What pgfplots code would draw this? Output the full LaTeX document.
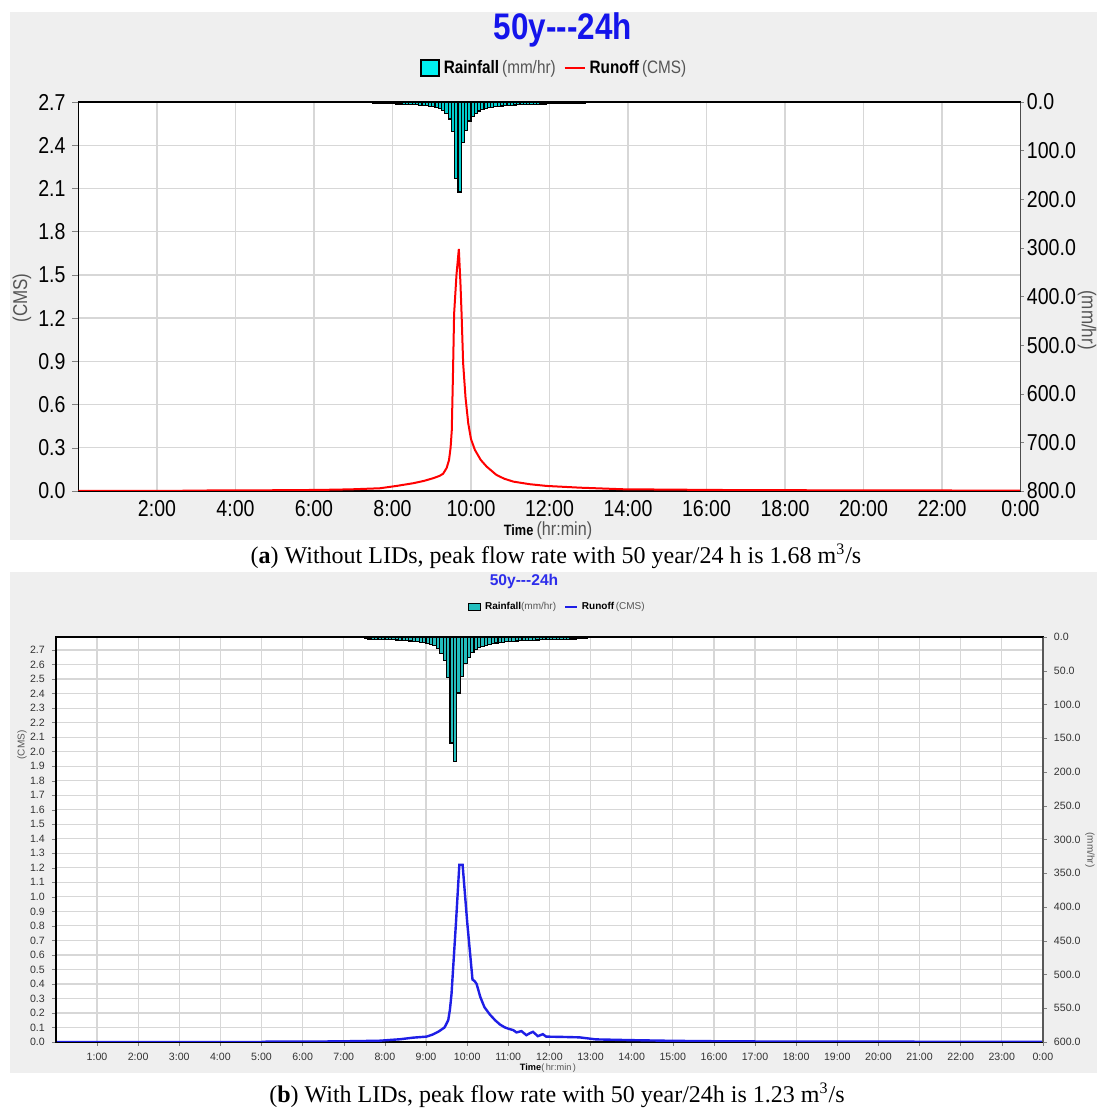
\documentclass[border=0pt]{standalone}
\usepackage{pgfplots}
\usepackage{pgfplotstable}
\pgfplotsset{compat=1.18}
\usepackage{fontspec}
\setmainfont{Liberation Serif}
\newfontfamily\arial{Liberation Sans}
\newfontfamily\arialc[FakeStretch=0.85]{Liberation Sans}
\definecolor{bgray}{RGB}{239,239,239}
\definecolor{gridc}{RGB}{215,215,215}
\definecolor{titleA}{RGB}{20,20,235}
\definecolor{titleB}{RGB}{45,45,235}
\definecolor{rainA}{RGB}{0,205,205}
\definecolor{rainB}{RGB}{35,190,190}
\definecolor{legA}{RGB}{0,240,240}
\definecolor{labgray}{RGB}{85,85,85}
\definecolor{runB}{RGB}{30,30,230}

\pgfplotstableread{
t r
7.5417 2.8
7.625 2.9
7.7083 3.1
7.7917 3.2
7.875 3.4
7.9583 3.6
8.0417 3.8
8.125 4.0
8.2083 4.2
8.2917 4.5
8.375 4.8
8.4583 5.1
8.5417 5.5
8.625 5.9
8.7083 6.4
8.7917 7.0
8.875 7.7
8.9583 8.5
9.0417 9.5
9.125 11
9.2083 13
9.2917 17
9.375 24
9.4583 35
9.5417 60
9.625 157
9.7083 185
9.7917 83
9.875 59
9.9583 39
10.0417 30
10.125 23
10.2083 18.5
10.2917 15.5
10.375 13.5
10.4583 12
10.5417 10.8
10.625 9.8
10.7083 9
10.7917 8.3
10.875 7.7
10.9583 7.2
11.0417 6.7
11.125 6.3
11.2083 5.9
11.2917 5.6
11.375 5.3
11.4583 5.0
11.5417 4.8
11.625 4.6
11.7083 4.4
11.7917 4.2
11.875 4.0
11.9583 3.8
12.0417 3.7
12.125 3.5
12.2083 3.4
12.2917 3.3
12.375 3.2
12.4583 3.1
12.5417 3.0
12.625 2.9
12.7083 2.8
12.7917 2.7
12.875 2.6
}\rain

\pgfplotstableread{
t q
0 0
2.6 0
2.7 0.003
4.0 0.004
5.6 0.006
6.5 0.009
7.0 0.012
7.68 0.019
8.1 0.035
8.53 0.054
8.8 0.07
9.04 0.089
9.2 0.105
9.29 0.12
9.38 0.16
9.44 0.215
9.48 0.30
9.51 0.42
9.54 0.8
9.57 1.23
9.63 1.5
9.69 1.68
9.73 1.45
9.76 1.23
9.80 0.886
9.86 0.65
9.93 0.47
10.0 0.36
10.1 0.285
10.25 0.215
10.4 0.169
10.65 0.111
10.85 0.085
11.08 0.065
11.5 0.047
11.93 0.035
12.78 0.023
13.88 0.012
16.3 0.007
20 0.004
24 0.003
}\runA

\pgfplotstableread{
t q
0 0
5.0 0
5.05 0.002
6.8 0.004
7.5 0.007
7.88 0.009
8.37 0.019
8.69 0.03
9.01 0.037
9.15 0.05
9.30 0.071
9.45 0.10
9.54 0.15
9.58 0.22
9.62 0.33
9.73 0.83
9.81 1.22
9.89 1.22
10.0 0.83
10.13 0.43
10.18 0.42
10.23 0.40
10.32 0.31
10.42 0.24
10.55 0.19
10.68 0.15
10.80 0.12
10.92 0.10
11.02 0.09
11.12 0.082
11.2 0.066
11.32 0.075
11.44 0.047
11.52 0.06
11.6 0.07
11.72 0.04
11.84 0.054
11.92 0.037
12.3 0.035
12.73 0.032
13.13 0.018
13.94 0.013
15.0 0.008
16.5 0.004
21 0.002
24 0.001
}\runB

\begin{document}
\begin{tikzpicture}
\path[use as bounding box] (0,0) rectangle (548.5pt,555pt);
\fill[bgray] (5pt,285pt) rectangle (548.5pt,549pt);
\fill[bgray] (5pt,18.5pt) rectangle (548.5pt,269pt);

% ---------------- Panel (a) ----------------
\begin{axis}[
  at={(39.25pt,309.5pt)}, anchor=south west,
  scale only axis, width=471pt, height=194.5pt,
  xmin=0, xmax=24, ymin=0, ymax=2.7,
  xtick={2,4,...,24},
  xticklabels={2:00,4:00,6:00,8:00,10:00,12:00,14:00,16:00,18:00,20:00,22:00,0:00},
  ytick={0,0.3,0.6,0.9,1.2,1.5,1.8,2.1,2.4,2.7},
  yticklabels={0.0,0.3,0.6,0.9,1.2,1.5,1.8,2.1,2.4,2.7},
  ytick pos=left, xtick pos=bottom,
  tick align=outside, major tick length=3pt,
  xtick style={draw=none},
  grid=major, grid style={gridc, line width=0.7pt},
  axis line style={black, line width=0.6pt},
  axis background/.style={fill=white},
  ticklabel style={font=\arialc\fontsize{11.5}{13}\selectfont, text=black},
  xticklabel style={yshift=2pt},
  legend style={at={(0.506,1.087)}, anchor=center, draw=none, fill=none,
    legend columns=-1, font=\arialc\fontsize{9}{10}\selectfont,
    /tikz/every odd column/.append style={column sep=0pt},
    /tikz/every even column/.append style={column sep=2pt}},
]
\addlegendimage{legend image code/.code={\draw[fill=legA, draw=black, line width=0.9pt] (0pt,-4pt) rectangle (9pt,4pt);}}
\addlegendentry{\textbf{Rainfall}\,\textcolor{labgray}{(mm/hr)}}
\addplot[red, line width=1pt, legend image code/.code={\draw[red, line width=1pt] (0pt,0pt) -- (10pt,0pt);}] table[x=t,y=q] {\runA};
\addlegendentry{\textbf{Runoff}\,\textcolor{labgray}{(CMS)}}
\end{axis}

\begin{axis}[
  at={(39.25pt,309.5pt)}, anchor=south west,
  scale only axis, width=471pt, height=194.5pt,
  xmin=0, xmax=24, ymin=0, ymax=800, y dir=reverse,
  hide x axis, axis y line*=right,
  ytick={0,100,200,300,400,500,600,700,800},
  yticklabels={0.0,100.0,200.0,300.0,400.0,500.0,600.0,700.0,800.0},
  tick align=outside, major tick length=1.5pt,
  axis line style={black!70, line width=0.6pt},
  ticklabel style={font=\arialc\fontsize{11.5}{13}\selectfont, text=black},
  yticklabel style={xshift=-1.8pt},
]
\addplot[ybar, bar width=0.0833, fill=rainA, draw=black, line width=0.6pt] table[x=t,y=r] {\rain};
\draw[black, line width=1.1pt] (axis cs:0,0) -- (axis cs:24,0);
\end{axis}

\node[font=\arialc\bfseries\fontsize{18.5}{20}\selectfont, text=titleA] at (281.5pt,540pt) {50y---24h};
\node[font=\arialc\fontsize{10}{12}\selectfont, text=labgray, rotate=90] at (11pt,406pt) {(CMS)};
\node[font=\arialc\fontsize{10}{12}\selectfont, text=labgray, rotate=-90] at (543.5pt,395pt) {(mm/hr)};
\node[font=\arialc\fontsize{9.5}{11}\selectfont, text=labgray] at (274pt,289.5pt) {{\fontsize{7.5}{9}\selectfont\bfseries\color{black}Time}\,(hr:min)};
\node[font=\fontsize{12}{14}\selectfont] at (278pt,277pt) {(\textbf{a}) Without LIDs, peak flow rate with 50 year/24 h is 1.68 m\textsuperscript{3}/s};

% ---------------- Panel (b) ----------------
\begin{axis}[
  at={(27.95pt,34pt)}, anchor=south west,
  scale only axis, width=493.5pt, height=202.5pt,
  xmin=0, xmax=24, ymin=0, ymax=2.79,
  xtick={1,2,...,24},
  xticklabels={1:00,2:00,3:00,4:00,5:00,6:00,7:00,8:00,9:00,10:00,11:00,12:00,13:00,14:00,15:00,16:00,17:00,18:00,19:00,20:00,21:00,22:00,23:00,0:00},
  ytick={0,0.1,0.2,0.3,0.4,0.5,0.6,0.7,0.8,0.9,1.0,1.1,1.2,1.3,1.4,1.5,1.6,1.7,1.8,1.9,2.0,2.1,2.2,2.3,2.4,2.5,2.6,2.7},
  yticklabels={0.0,0.1,0.2,0.3,0.4,0.5,0.6,0.7,0.8,0.9,1.0,1.1,1.2,1.3,1.4,1.5,1.6,1.7,1.8,1.9,2.0,2.1,2.2,2.3,2.4,2.5,2.6,2.7},
  ytick pos=left, xtick pos=bottom,
  tick align=outside, major tick length=2pt,
  grid=major, grid style={gridc, line width=0.6pt},
  axis line style={black, line width=0.8pt},
  axis background/.style={fill=white},
  ticklabel style={font=\arial\fontsize{5.3}{6}\selectfont, text=black!80},
  legend style={at={(0.509,1.074)}, anchor=center, draw=none, fill=none,
    legend columns=-1, font=\arial\fontsize{5}{6}\selectfont,
    /tikz/every even column/.append style={column sep=2pt}},
]
\addlegendimage{legend image code/.code={\draw[fill=rainB, draw=black, line width=0.6pt] (0pt,-1.6pt) rectangle (6pt,1.6pt);}}
\addlegendentry{\textbf{Rainfall}\textcolor{labgray}{(mm/hr)}}
\addplot[runB, line width=1.2pt, legend image code/.code={\draw[runB, line width=0.9pt] (0pt,0pt) -- (6pt,0pt);}] table[x=t,y=q] {\runB};
\addlegendentry{\textbf{Runoff}\,\textcolor{labgray}{(CMS)}}
\draw[black, line width=1.5pt] (rel axis cs:0,0) -- (rel axis cs:0,1);
\end{axis}

\begin{axis}[
  at={(27.95pt,34pt)}, anchor=south west,
  scale only axis, width=493.5pt, height=202.5pt,
  xmin=0, xmax=24, ymin=0, ymax=600, y dir=reverse,
  hide x axis, axis y line*=right,
  ytick={0,50,...,600},
  yticklabels={0.0,50.0,100.0,150.0,200.0,250.0,300.0,350.0,400.0,450.0,500.0,550.0,600.0},
  tick align=outside, major tick length=2pt,
  axis line style={black!65, line width=0.6pt},
  ticklabel style={font=\arial\fontsize{5.3}{6}\selectfont, text=black!80},
]
\addplot[ybar, bar width=0.0833, fill=rainB, draw=black, line width=0.6pt] table[x=t,y=r] {\rain};
\draw[black, line width=1.2pt] (axis cs:0,0) -- (axis cs:24,0);
\end{axis}

\node[font=\arial\bfseries\fontsize{7.8}{9}\selectfont, text=titleB] at (262pt,264.5pt) {50y---24h};
\node[font=\arial\fontsize{5}{6}\selectfont, text=labgray, rotate=90] at (11pt,182.5pt) {(CMS)};
\node[font=\arial\fontsize{5}{6}\selectfont, text=labgray, rotate=-90] at (545pt,130pt) {(mm/hr)};
\node[font=\arial\fontsize{4.6}{6}\selectfont, text=labgray] at (274pt,21pt) {{\bfseries\color{black}Time}(\,hr:min\,)};
\node[font=\fontsize{12}{14}\selectfont] at (278.5pt,7.5pt) {(\textbf{b}) With LIDs, peak flow rate with 50 year/24h is 1.23 m\textsuperscript{3}/s};
\end{tikzpicture}
\end{document}
